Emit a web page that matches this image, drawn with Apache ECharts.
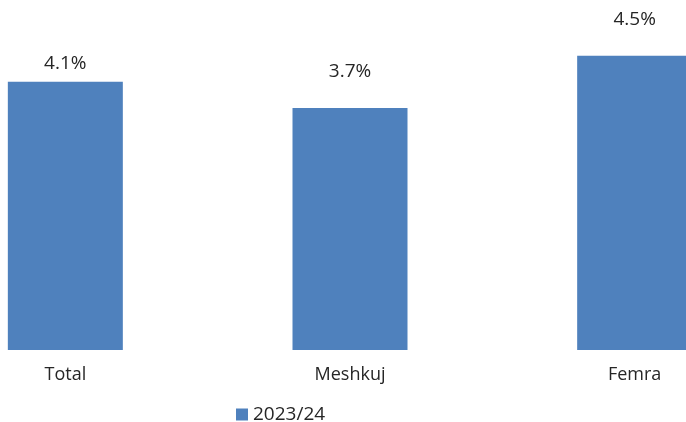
<!DOCTYPE html>
<html>
<head>
<meta charset="utf-8">
<script src="https://cdn.jsdelivr.net/npm/echarts@6/dist/echarts.min.js"></script>
<style>
  html, body { margin: 0; padding: 0; background: #fff; }
  #chart { width: 686px; height: 422px; }
</style>
</head>
<body>
<div id="chart"></div>
<script>
// categories and values (%)
const categories = ['Total', 'Meshkuj', 'Femra']
const seriesName = '2023/24'
const values = [4.1, 3.7, 4.5]

const chart = echarts.init(document.getElementById('chart'))

// the first label sits closer to its bar in the original
const labelDistance = (i) => (i === 0 ? 9 : 27)

const option = {
  backgroundColor: '#ffffff',
  animation: false,
  textStyle: { fontFamily: 'Open Sans, sans-serif' },
  legend: {
    data: [seriesName],
    left: 236,
    top: 405,
    padding: 0,
    itemWidth: 12,
    itemHeight: 12,
    icon: 'rect',
    itemGap: 6,
    textStyle: { color: '#262626', fontSize: 19, fontFamily: 'Open Sans, sans-serif' },
  },
  grid: {
    left: -77,
    width: 854,
    top: 23,
    bottom: 72,
    containLabel: false,
    outerBoundsMode: 'none',
  },
  xAxis: {
    type: 'category',
    data: categories,
    axisLine: { show: false },
    axisTick: { show: false },
    axisLabel: {
      color: '#262626',
      fontSize: 18,
      margin: 16,
      fontFamily: 'Open Sans, sans-serif',
    },
  },
  yAxis: {
    type: 'value',
    min: 0,
    max: 5,
    show: false,
    splitLine: { show: false },
  },
  series: [
    {
      name: seriesName,
      type: 'bar',
      data: values.map((v, i) => ({ value: v, label: { distance: labelDistance(i) } })),
      barWidth: 115,
      itemStyle: { color: '#4F81BD' },
      label: {
        show: true,
        position: 'top',
        color: '#262626',
        fontSize: 19,
        fontFamily: 'Open Sans, sans-serif',
        formatter: (p) => p.value.toFixed(1) + '%',
      },
    },
  ],
}

chart.setOption(option)
</script>
</body>
</html>
